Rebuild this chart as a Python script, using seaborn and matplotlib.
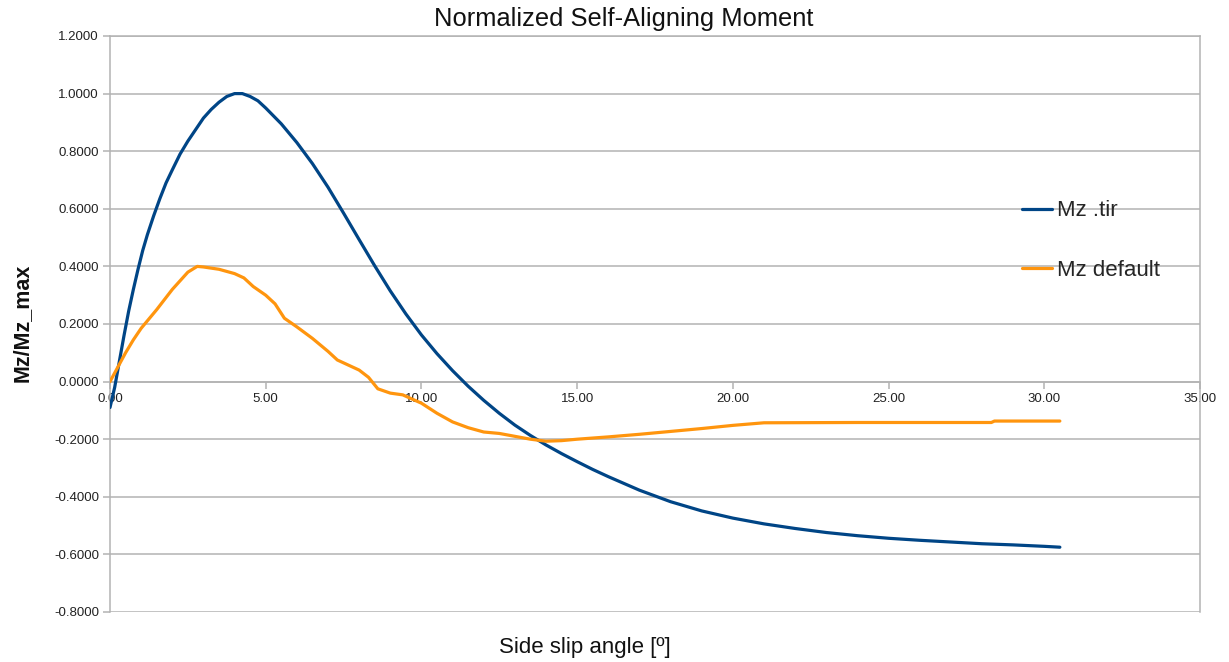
import pandas as pd
import matplotlib
matplotlib.use("Agg")
import matplotlib.pyplot as plt
from matplotlib.ticker import FormatStrFormatter, MultipleLocator
import seaborn as sns

# Mz .tir (normalized)
tir_slip = [0, 0.15, 0.3, 0.45, 0.6, 0.75, 0.9, 1.05, 1.2, 1.4, 1.6, 1.8, 2.0,
            2.25, 2.5, 2.75, 3.0, 3.25, 3.5, 3.75, 4.0, 4.25, 4.5, 4.75, 5.0,
            5.5, 6.0, 6.5, 7.0, 7.5, 8.0, 8.5, 9.0, 9.5, 10.0, 10.5, 11.0, 11.5,
            12.0, 12.5, 13.0, 13.5, 14.0, 14.5, 15, 15.5, 16, 17, 18, 19, 20, 21,
            22, 23, 24, 25, 26, 27, 28, 29, 30, 30.5]
tir_mz = [-0.09, -0.02, 0.07, 0.16, 0.245, 0.32, 0.39, 0.455, 0.51, 0.575, 0.635,
          0.69, 0.735, 0.79, 0.835, 0.875, 0.915, 0.945, 0.97, 0.99, 1.0, 1.0,
          0.99, 0.975, 0.95, 0.895, 0.83, 0.757, 0.675, 0.585, 0.493, 0.402,
          0.315, 0.235, 0.162, 0.097, 0.038, -0.016, -0.065, -0.11, -0.151,
          -0.187, -0.22, -0.25, -0.278, -0.305, -0.33, -0.377, -0.417, -0.449,
          -0.474, -0.494, -0.51, -0.524, -0.535, -0.544, -0.551, -0.557, -0.563,
          -0.567, -0.572, -0.575]

# Mz default (normalized)
def_slip = [0, 0.25, 0.5, 0.75, 1.0, 1.5, 2.0, 2.5, 2.8, 3.0, 3.5, 4.0, 4.3, 4.6,
            5.0, 5.3, 5.6, 6.0, 6.5, 7.0, 7.3, 7.6, 8.0, 8.3, 8.6, 9.0, 9.4, 10.0,
            10.5, 11.0, 11.5, 12.0, 12.5, 13.0, 13.5, 14.0, 14.5, 15.0, 16.0, 17.0,
            18.0, 19.0, 20.0, 21.0, 24.0, 28.3, 28.4, 30.5]
def_mz = [0.0, 0.05, 0.10, 0.145, 0.185, 0.25, 0.32, 0.38, 0.40, 0.398, 0.39, 0.375,
          0.36, 0.33, 0.30, 0.27, 0.22, 0.19, 0.15, 0.105, 0.075, 0.06, 0.04,
          0.015, -0.025, -0.04, -0.046, -0.075, -0.11, -0.14, -0.16, -0.175, -0.18,
          -0.19, -0.2, -0.207, -0.205, -0.2, -0.192, -0.183, -0.173, -0.163,
          -0.152, -0.143, -0.142, -0.142, -0.137, -0.137]

df = pd.concat([
    pd.DataFrame({"slip": tir_slip, "mz": tir_mz, "series": "Mz .tir"}),
    pd.DataFrame({"slip": def_slip, "mz": def_mz, "series": "Mz default"}),
])

sns.set_theme(style="white")
plt.rcParams["font.family"] = ["Liberation Sans", "DejaVu Sans"]

fig = plt.figure(figsize=(12.29, 6.62), dpi=100)
ax = fig.add_axes([110 / 1229, 50 / 662, 1090 / 1229, 576 / 662])

grid_col = "#b3b3b3"
sns.lineplot(data=df, x="slip", y="mz", hue="series",
             palette={"Mz .tir": "#004586", "Mz default": "#ff950e"},
             linewidth=2.3, sort=False, estimator=None, ax=ax, zorder=3)

ax.set_xlim(0, 35)
ax.set_ylim(-0.8, 1.2)
ax.xaxis.set_major_locator(MultipleLocator(5))
ax.yaxis.set_major_locator(MultipleLocator(0.2))
ax.xaxis.set_major_formatter(FormatStrFormatter("%.2f"))
ax.yaxis.set_major_formatter(FormatStrFormatter("%.4f"))
ax.yaxis.grid(True, color=grid_col, linewidth=1.1)
ax.xaxis.grid(False)

for name, sp in ax.spines.items():
    sp.set_color(grid_col)
    sp.set_linewidth(1.1)
ax.spines["bottom"].set_position(("data", 0))

ax.tick_params(axis="both", which="major", direction="out", length=5,
               color=grid_col, width=1.1, labelsize=9.5, labelcolor="#222222",
               bottom=True, left=True, pad=3)

ax.set_title("Normalized Self-Aligning Moment", fontsize=18.4, pad=7,
             color="#111111", x=0.471)
ax.set_xlabel("Side slip angle [º]", fontsize=16, color="#111111")
ax.set_ylabel("Mz/Mz_max", fontsize=15.5, fontweight="bold", color="#111111")
ax.xaxis.set_label_coords(0.436, -0.061)
ax.xaxis.label.set_va("center")
ax.yaxis.set_label_coords(-0.081, 0.502)
ax.yaxis.label.set_va("center")

leg = ax.legend(loc="center left", bbox_to_anchor=(0.837, 0.6445), frameon=False,
                fontsize=16, borderpad=0, borderaxespad=0, handlelength=1.35,
                handletextpad=0.22, labelspacing=1.75, title=None)
for line in leg.get_lines():
    line.set_linewidth(2.3)

fig.savefig("out.png", dpi=100)
